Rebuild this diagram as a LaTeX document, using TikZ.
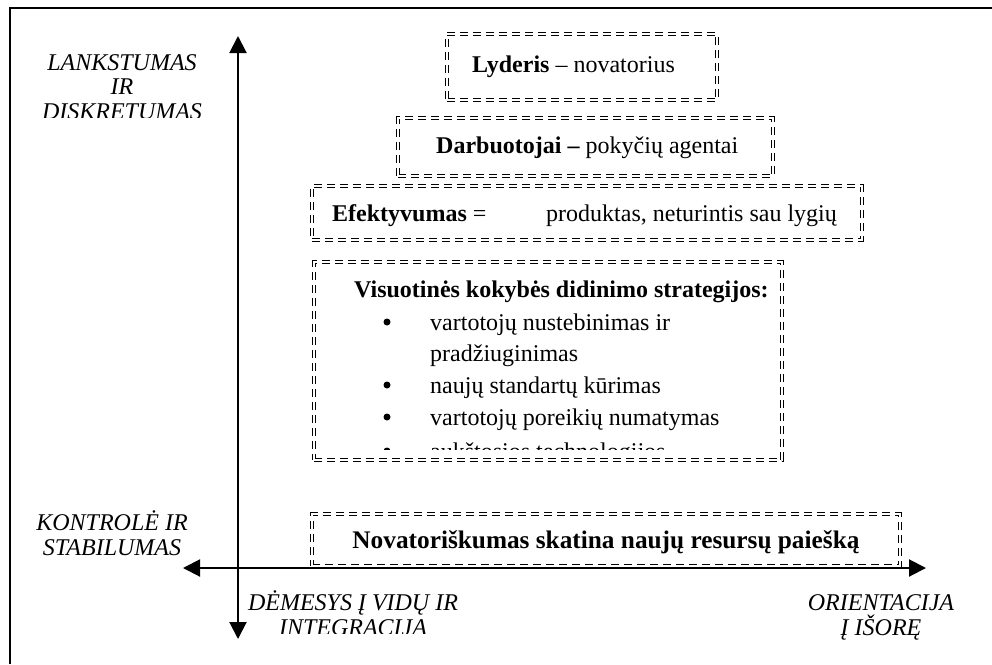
\documentclass[tikz,border=0pt]{standalone}
\usepackage{fontspec}
\setmainfont{Liberation Serif}
\usetikzlibrary{arrows.meta}
\begin{document}
\begin{tikzpicture}[x=1pt,y=-1pt,
  dblbox/.style={draw, line width=1.4pt, double, double distance=1.5pt,
    dash pattern=on 8pt off 5pt, inner sep=0pt},
  txt/.style={font=\fontsize{24}{28}\selectfont, inner sep=0pt, anchor=base west},
  axlabel/.style={font=\fontsize{24}{28}\selectfont\itshape, inner sep=0pt, anchor=base},
  axis/.style={line width=2pt,
    {Triangle[length=17pt,width=17pt]}-{Triangle[length=17pt,width=17pt]}},
  dot/.style={circle, fill=black, inner sep=0pt, minimum size=7pt}]
\useasboundingbox (0,0) rectangle (992,664);

% page frame
\draw[line width=2.5pt] (10,664) -- (10,8) -- (992,8);

% axes
\coordinate (ytop) at (238,36);
\coordinate (ybot) at (238,639);
\coordinate (xleft) at (183,568);
\coordinate (xright) at (926,568);
\draw[axis] (ytop) -- (ybot);
\draw[axis] (xleft) -- (xright);

% axis labels
\node[axlabel] (lank) at (122,70) {LANKSTUMAS};
\node[axlabel] (ir) at (122,94) {IR};
\begin{scope}
  \clip (20,98) rectangle (228,117);
  \node[axlabel] (disk) at (122,119) {DISKRETUMAS};
\end{scope}
\node[axlabel] (kontr) at (112,530) {KONTROLĖ IR};
\node[axlabel] (stab) at (112,555) {STABILUMAS};
\node[axlabel] (dem) at (353,610) {DĖMESYS Į VIDŲ IR};
\begin{scope}
  \clip (240,614) rectangle (500,633);
  \node[axlabel] (integr) at (353,635) {INTEGRACIJA};
\end{scope}
\node[axlabel] (orient) at (881,610) {ORIENTACIJA};
\node[axlabel] (isore) at (881,635) {Į IŠORĘ};

% stacked boxes
\node[dblbox, minimum width=270pt, minimum height=66pt] (lyd) at (582,67) {};
\node[txt] (lydt) at (472,72) {\textbf{Lyderis} – novatorius};

\node[dblbox, minimum width=375pt, minimum height=58pt] (darb) at (585.5,147) {};
\node[txt] (darbt) at (436,153) {\textbf{Darbuotojai –} pokyčių agentai};

\node[dblbox, minimum width=550pt, minimum height=54pt] (efek) at (587,213) {};
\node[txt] (efekt) at (332,221) {\textbf{Efektyvumas} =};
\node[txt] (efekt2) at (546,221) {produktas, neturintis sau lygių};

\node[dblbox, minimum width=468pt, minimum height=198pt] (vis) at (548,361) {};
\node[txt] (vist) at (354,297) {\textbf{Visuotinės kokybės didinimo strategijos:}};
\node[dot] (b1) at (387,322) {};
\node[txt] (l1) at (430,330) {vartotojų nustebinimas ir};
\node[txt] (l2) at (430,361) {pradžiuginimas};
\node[dot] (b2) at (387,385) {};
\node[txt] (l3) at (430,393) {naujų standartų kūrimas};
\node[dot] (b3) at (387,417) {};
\node[txt] (l4) at (430,425) {vartotojų poreikių numatymas};
\begin{scope}
  \clip (320,436) rectangle (770,449);
  \node[dot] (b4) at (387,451) {};
  \node[txt] (l5) at (430,459) {aukštosios technologijos};
\end{scope}

\node[dblbox, minimum width=588pt, minimum height=52pt] (nov) at (606,540) {};
\node[txt, anchor=base, font=\fontsize{25.3}{29}\selectfont\bfseries] (novt) at (606,548)
  {Novatoriškumas skatina naujų resursų paiešką};
\end{tikzpicture}
\end{document}
